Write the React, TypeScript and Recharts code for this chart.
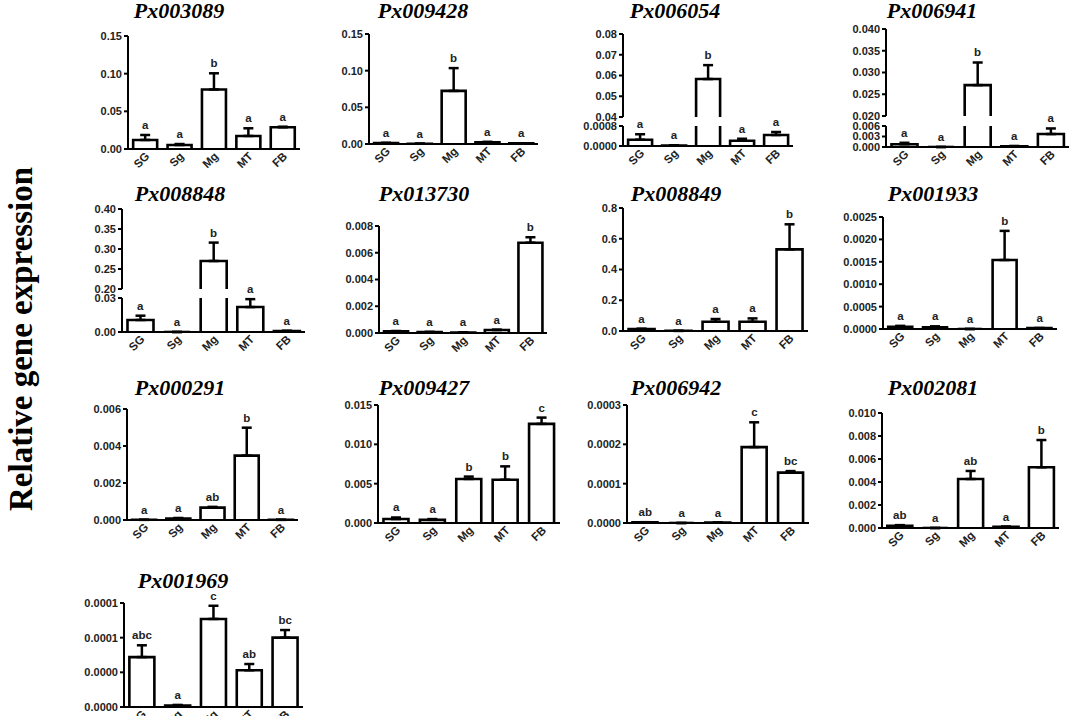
import React from 'react';
import { ComposedChart, Bar, XAxis, YAxis, ErrorBar, Scatter } from 'recharts';

const FONT = '"Liberation Sans", Arial, sans-serif';
const SERIF = '"Liberation Serif", "Times New Roman", serif';

const categories = ['SG', 'Sg', 'Mg', 'MT', 'FB'];

// mean / upper error / letters
const px003089Mean = [0.012, 0.0053, 0.079, 0.0173, 0.0288];
const px003089Err = [0.0066, 0.0013, 0.0215, 0.0102, 0.0008];
const px003089Letters = ['a', 'a', 'b', 'a', 'a'];

const px009428Mean = [0.0012, 0.0004, 0.0724, 0.0022, 0.0008];
const px009428Err = [0.0004, 0.0001, 0.0311, 0.0008, 0.0002];
const px009428Letters = ['a', 'a', 'b', 'a', 'a'];

const px006054Mean = [0.00025, 0.00002, 0.0583, 0.00021, 0.00044];
const px006054Err = [0.00022, 0.00001, 0.0067, 0.00008, 0.00012];
const px006054Letters = ['a', 'a', 'b', 'a', 'a'];

const px006941Mean = [0.0008, 0, 0.0271, 0.0002, 0.0037];
const px006941Err = [0.0004, 0, 0.0052, 0.0001, 0.0016];
const px006941Letters = ['a', 'a', 'b', 'a', 'a'];

const px008848Mean = [0.0106, 0, 0.27, 0.022, 0.0008];
const px008848Err = [0.0038, 0, 0.046, 0.007, 0.0003];
const px008848Letters = ['a', 'a', 'b', 'a', 'a'];

const px013730Mean = [0.00012, 0.00007, 0.00004, 0.00022, 0.00675];
const px013730Err = [0.00003, 0.00001, 0.00001, 0.00003, 0.00041];
const px013730Letters = ['a', 'a', 'a', 'a', 'b'];

const px008849Mean = [0.012, 0.001, 0.06, 0.06, 0.531];
const px008849Err = [0.003, 0, 0.018, 0.022, 0.163];
const px008849Letters = ['a', 'a', 'a', 'a', 'b'];

const px001933Mean = [0.00005, 0.00004, 0, 0.00154, 0.00002];
const px001933Err = [0.00002, 0.00002, 0, 0.00065, 0];
const px001933Letters = ['a', 'a', 'a', 'b', 'a'];

const px000291Mean = [0.00001, 0.00008, 0.00067, 0.00348, 0.00001];
const px000291Err = [0, 0.00003, 0.00004, 0.00151, 0];
const px000291Letters = ['a', 'a', 'ab', 'b', 'a'];

const px009427Mean = [0.0005, 0.0004, 0.0056, 0.0055, 0.0126];
const px009427Err = [0.0002, 0.0001, 0.0003, 0.0017, 0.0008];
const px009427Letters = ['a', 'a', 'b', 'b', 'c'];

const px006942Mean = [0.000002, 0, 0.000001, 0.000193, 0.000128];
const px006942Err = [0, 0, 0, 0.000063, 0.000004];
const px006942Letters = ['ab', 'a', 'a', 'c', 'bc'];

const px002081Mean = [0.0002, 0, 0.00426, 0.0001, 0.00528];
const px002081Err = [0.00005, 0, 0.0007, 0.00002, 0.00237];
const px002081Letters = ['ab', 'a', 'ab', 'a', 'b'];

const px001969Mean = [0.000072, 0.000002, 0.000127, 0.000053, 0.0001];
const px001969Err = [0.000017, 0.000001, 0.000019, 0.000009, 0.000011];
const px001969Letters = ['abc', 'a', 'c', 'ab', 'bc'];
const px001969TickLabels = ['0.0000', '0.0000', '0.0001', '0.0001'];

const fmt = (ticks: number[], dec: number) => ticks.map((t) => t.toFixed(dec));

type Seg = { yTop: number; yBottom: number; domain: [number, number]; ticks: number[]; labels: string[]; showX: boolean };
type Panel = {
  title: string; tx: number; ty: number; axisX: number; right: number;
  mean: number[]; err: number[]; letters: string[]; segs: Seg[];
};

const seg = (yTop: number, yBottom: number, domain: [number, number], ticks: number[], labels: string[], showX = true): Seg =>
  ({ yTop, yBottom, domain, ticks, labels, showX });

const t1 = [0, 0.05, 0.1, 0.15];
const panels: Panel[] = [
  { title: 'Px003089', tx: 179, ty: 18, axisX: 128, right: 300, mean: px003089Mean, err: px003089Err, letters: px003089Letters,
    segs: [seg(36, 149, [0, 0.15], t1, fmt(t1, 2))] },
  { title: 'Px009428', tx: 423, ty: 18, axisX: 369, right: 538, mean: px009428Mean, err: px009428Err, letters: px009428Letters,
    segs: [seg(34, 144, [0, 0.15], t1, fmt(t1, 2))] },
  { title: 'Px006054', tx: 675, ty: 18, axisX: 623, right: 793, mean: px006054Mean, err: px006054Err, letters: px006054Letters,
    segs: [
      seg(34, 117, [0.04, 0.08], [0.04, 0.05, 0.06, 0.07, 0.08], fmt([0.04, 0.05, 0.06, 0.07, 0.08], 2), false),
      seg(126, 146, [0, 0.0008], [0, 0.0008], fmt([0, 0.0008], 4)),
    ] },
  { title: 'Px006941', tx: 932, ty: 18, axisX: 886, right: 1069, mean: px006941Mean, err: px006941Err, letters: px006941Letters,
    segs: [
      seg(29, 116, [0.02, 0.04], [0.02, 0.025, 0.03, 0.035, 0.04], fmt([0.02, 0.025, 0.03, 0.035, 0.04], 3), false),
      seg(126, 147, [0, 0.006], [0, 0.003, 0.006], fmt([0, 0.003, 0.006], 3)),
    ] },
  { title: 'Px008848', tx: 180, ty: 201, axisX: 122, right: 305, mean: px008848Mean, err: px008848Err, letters: px008848Letters,
    segs: [
      seg(209, 289, [0.2, 0.4], [0.2, 0.25, 0.3, 0.35, 0.4], fmt([0.2, 0.25, 0.3, 0.35, 0.4], 2), false),
      seg(298, 332, [0, 0.03], [0, 0.03], fmt([0, 0.03], 2)),
    ] },
  { title: 'Px013730', tx: 424, ty: 201, axisX: 379, right: 547, mean: px013730Mean, err: px013730Err, letters: px013730Letters,
    segs: [seg(226, 333, [0, 0.008], [0, 0.002, 0.004, 0.006, 0.008], fmt([0, 0.002, 0.004, 0.006, 0.008], 3))] },
  { title: 'Px008849', tx: 676, ty: 201, axisX: 623, right: 808, mean: px008849Mean, err: px008849Err, letters: px008849Letters,
    segs: [seg(208, 331, [0, 0.8], [0, 0.2, 0.4, 0.6, 0.8], fmt([0, 0.2, 0.4, 0.6, 0.8], 1))] },
  { title: 'Px001933', tx: 933, ty: 201, axisX: 883, right: 1057, mean: px001933Mean, err: px001933Err, letters: px001933Letters,
    segs: [seg(217, 329, [0, 0.0025], [0, 0.0005, 0.001, 0.0015, 0.002, 0.0025], fmt([0, 0.0005, 0.001, 0.0015, 0.002, 0.0025], 4))] },
  { title: 'Px000291', tx: 180, ty: 395, axisX: 127, right: 298, mean: px000291Mean, err: px000291Err, letters: px000291Letters,
    segs: [seg(409, 520, [0, 0.006], [0, 0.002, 0.004, 0.006], fmt([0, 0.002, 0.004, 0.006], 3))] },
  { title: 'Px009427', tx: 424, ty: 395, axisX: 378, right: 560, mean: px009427Mean, err: px009427Err, letters: px009427Letters,
    segs: [seg(405, 523, [0, 0.015], [0, 0.005, 0.01, 0.015], fmt([0, 0.005, 0.01, 0.015], 3))] },
  { title: 'Px006942', tx: 676, ty: 395, axisX: 627, right: 809, mean: px006942Mean, err: px006942Err, letters: px006942Letters,
    segs: [seg(405, 523, [0, 0.0003], [0, 0.0001, 0.0002, 0.0003], fmt([0, 0.0001, 0.0002, 0.0003], 4))] },
  { title: 'Px002081', tx: 933, ty: 395, axisX: 882, right: 1059, mean: px002081Mean, err: px002081Err, letters: px002081Letters,
    segs: [seg(413, 528, [0, 0.01], [0, 0.002, 0.004, 0.006, 0.008, 0.01], fmt([0, 0.002, 0.004, 0.006, 0.008, 0.01], 3))] },
  { title: 'Px001969', tx: 183, ty: 588, axisX: 124, right: 303, mean: px001969Mean, err: px001969Err, letters: px001969Letters,
    segs: [seg(603, 707, [0, 0.00015], [0, 0.00005, 0.0001, 0.00015], px001969TickLabels)] },
];

type Row = { cat: string; val: number | null; err: [number, number] | null; top: number | null; letter: string };

// rows for one axis segment (broken axes get two segments)
const buildRows = (p: Panel, lo: number, hi: number): Row[] =>
  categories.map((cat, i) => {
    const m = p.mean[i];
    if (lo > 0 && m < lo) return { cat, val: null, err: null, top: null, letter: '' };
    const over = m > hi;
    return {
      cat, val: m,
      err: over ? null : [0, p.err[i]],
      top: over ? null : m + p.err[i],
      letter: over ? '' : p.letters[i],
    };
  });

const OpenBar = (props: any) => {
  const { x, y, width, height } = props;
  if (x == null || y == null || !isFinite(height)) return <g />;
  return <path d={`M${x},${y + height}V${y}H${x + width}V${y + height}`} fill="#fff" stroke="#000" strokeWidth={2.6} />;
};

const LetterMark = (props: any) => {
  const { cx, cy, payload } = props;
  if (!payload || !payload.letter || cy == null || isNaN(cy)) return <g />;
  return (
    <text x={cx} y={cy - 6} textAnchor="middle" fontSize={11.5} fontWeight="bold" fill="#222" fontFamily={FONT}>
      {payload.letter}
    </text>
  );
};

// rotated category label, end of the text just under the band centre
const renderCatTick = (props: any) => {
  const { x, y, payload } = props;
  const ax = x + 5;
  const ay = y + 8;
  return (
    <text
      x={ax}
      y={ay}
      transform={`rotate(-45 ${ax} ${ay})`}
      textAnchor="end"
      fontSize={11.5}
      fontWeight="bold"
      fill="#222"
      fontFamily={FONT}
    >
      {payload.value}
    </text>
  );
};

const YW = 70;
const MTOP = 18;
const MR = 4;

const Segment = ({ p, s }: { p: Panel; s: Seg }) => {
  const XH = s.showX ? 40 : 0;
  const MB = s.showX ? 0 : 8;
  const w = YW + (p.right - p.axisX) + MR;
  const h = MTOP + (s.yBottom - s.yTop) + XH + MB;
  const rows = buildRows(p, s.domain[0], s.domain[1]);
  return (
    <div style={{ position: 'absolute', left: p.axisX - YW, top: s.yTop - MTOP }}>
      <ComposedChart width={w} height={h} data={rows} margin={{ top: MTOP, right: MR, bottom: MB, left: 0 }} barCategoryGap="15%">
        <XAxis
          dataKey="cat"
          hide={!s.showX}
          height={XH}
          interval={0}
          axisLine={{ stroke: '#000', strokeWidth: 2 }}
          tickLine={false}
          tickSize={0}
          tickMargin={0}
          tick={renderCatTick}
        />
        <YAxis
          type="number"
          domain={s.domain}
          ticks={s.ticks}
          allowDataOverflow
          width={YW}
          interval={0}
          axisLine={{ stroke: '#000', strokeWidth: 2 }}
          tickLine={{ stroke: '#000', strokeWidth: 2 }}
          tickSize={4}
          tickMargin={2}
          tick={{ fontSize: 11, fontWeight: 'bold', fill: '#222', fontFamily: FONT }}
          tickFormatter={(v: number) => s.labels[s.ticks.indexOf(v)] ?? String(v)}
        />
        {/* same scale, no clipping, so the letters can sit above the plot top */}
        <YAxis yAxisId="lt" type="number" domain={s.domain} ticks={s.ticks} hide />
        <Bar dataKey="val" shape={<OpenBar />} isAnimationActive={false}>
          <ErrorBar dataKey="err" width={5} stroke="#000" strokeWidth={2.5} direction="y" />
        </Bar>
        <Scatter yAxisId="lt" dataKey="top" shape={<LetterMark />} isAnimationActive={false} />
      </ComposedChart>
    </div>
  );
};

export default function App() {
  return (
    <div style={{ position: 'absolute', left: 0, top: 0, width: 1072, height: 716, background: '#fff', overflow: 'hidden' }}>
      <svg width={1072} height={716} style={{ position: 'absolute', left: 0, top: 0 }}>
        <text
          x={32}
          y={339}
          transform="rotate(-90, 32, 339)"
          textAnchor="middle"
          fontFamily={SERIF}
          fontWeight="bold"
          fontSize={33}
          fill="#000"
        >
          Relative gene expression
        </text>
        {panels.map((p) => (
          <text key={p.title} x={p.tx} y={p.ty} textAnchor="middle" fontFamily={SERIF} fontWeight="bold" fontStyle="italic" fontSize={22} fill="#000">
            {p.title}
          </text>
        ))}
      </svg>
      {panels.map((p) => p.segs.map((s, i) => <Segment key={p.title + i} p={p} s={s} />))}
    </div>
  );
}
